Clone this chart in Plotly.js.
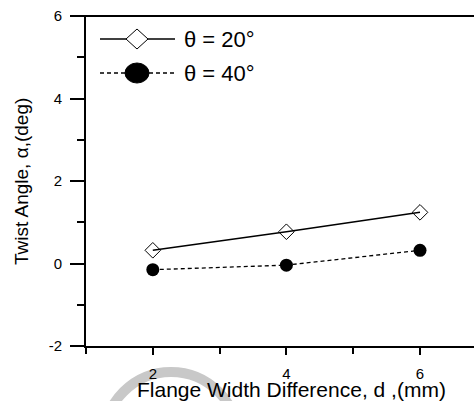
<!DOCTYPE html>
<html>
<head>
<meta charset="utf-8">
<script src="https://cdn.plot.ly/plotly-3.0.1.min.js"></script>
<style>html,body{margin:0;padding:0;background:#fff;overflow:hidden;}#chart{width:474px;height:401px;}</style>
</head>
<body>
<div id="chart"></div>
<script>
var widthDiff = [2, 4, 6];
var twist20 = [0.32, 0.77, 1.24];
var twist40 = [-0.15, -0.04, 0.32];
var seriesNames = ['\u03b8 = 20\u00b0', '\u03b8 = 40\u00b0'];
var xTickVals = [2, 4, 6];
var xTickText = ['2', '4', '6'];
var yTickVals = [-2, 0, 2, 4, 6];
var yTickText = ['-2', '0', '2', '4', '6'];
var xTitle = 'Flange Width Difference, d ,(mm)';
var yTitle = 'Twist Angle, \u03b1,(deg)';

var W = 474, H = 401;
var M = {l: 86, r: 0, t: 16, b: 55};
var pw = W - M.l - M.r, ph = H - M.t - M.b;
function px(x) { return (x - M.l) / pw; }
function py(y) { return (H - M.b - y) / ph; }

var FONT = 'Liberation Sans, Arial, Helvetica, sans-serif';

var traces = [
  {x: widthDiff, y: twist20, name: seriesNames[0], type: 'scatter', mode: 'lines+markers',
   line: {color: '#000', width: 1.5},
   marker: {symbol: 'diamond-open', size: 12, color: '#000', line: {width: 1, color: '#000'}},
   cliponaxis: false},
  {x: widthDiff, y: twist40, name: seriesNames[1], type: 'scatter', mode: 'lines+markers',
   line: {color: '#000', width: 1.3, dash: '4px,3px'},
   marker: {symbol: 'circle', size: 13, color: '#000'},
   cliponaxis: false}
];

var shapes = [
  // faint watermark arc at the bottom
  {type: 'circle', xref: 'paper', yref: 'paper', xsizemode: 'pixel', ysizemode: 'pixel',
   xanchor: px(171), yanchor: py(439), x0: -67, x1: 67, y0: -67, y1: 67,
   line: {color: '#c8c8c8', width: 10}, layer: 'below'},
  // top frame line
  {type: 'line', xref: 'paper', yref: 'paper', x0: px(72), x1: 1.01, y0: 1, y1: 1,
   line: {color: '#000', width: 2}},
  // legend samples
  {type: 'line', xref: 'paper', yref: 'paper', x0: px(100), x1: px(175), y0: py(39), y1: py(39),
   line: {color: '#000', width: 1.5}},
  {type: 'line', xref: 'paper', yref: 'paper', x0: px(100), x1: px(175), y0: py(73), y1: py(73),
   line: {color: '#000', width: 1.3, dash: '4px,3px'}},
  {type: 'path', xref: 'paper', yref: 'paper', xsizemode: 'pixel', ysizemode: 'pixel',
   xanchor: px(137), yanchor: py(39), path: 'M -11 0 L 0 10 L 11 0 L 0 -10 Z',
   fillcolor: '#fff', line: {color: '#000', width: 1}},
  {type: 'circle', xref: 'paper', yref: 'paper', xsizemode: 'pixel', ysizemode: 'pixel',
   xanchor: px(137), yanchor: py(73), x0: -12, x1: 12, y0: -10, y1: 10,
   fillcolor: '#000', line: {color: '#000', width: 1}}
];

var annotations = [
  {xref: 'paper', yref: 'paper', x: px(182), y: py(39), xanchor: 'left', yanchor: 'middle',
   text: seriesNames[0], showarrow: false, font: {family: FONT, size: 22, color: '#000'}},
  {xref: 'paper', yref: 'paper', x: px(182), y: py(73), xanchor: 'left', yanchor: 'middle',
   text: seriesNames[1], showarrow: false, font: {family: FONT, size: 22, color: '#000'}},
  // axis titles, placed as in the reference
  {xref: 'paper', yref: 'paper', x: px(291), y: py(389), xanchor: 'center', yanchor: 'middle',
   text: xTitle, showarrow: false, font: {family: FONT, size: 21, color: '#000'}},
  {xref: 'paper', yref: 'paper', x: px(21), y: py(182), xanchor: 'center', yanchor: 'middle',
   textangle: -90, text: yTitle, showarrow: false, font: {family: FONT, size: 19, color: '#000'}}
];

var layout = {
  width: W, height: H,
  margin: M,
  paper_bgcolor: '#fff', plot_bgcolor: '#fff',
  showlegend: false,
  font: {family: FONT, color: '#000'},
  xaxis: {
    range: [1, 1 + pw / 66.8], tickvals: xTickVals, ticktext: xTickText,
    showgrid: false, zeroline: false, showline: true, linecolor: '#000', linewidth: 2,
    mirror: false, ticks: 'outside', ticklen: 7, tickwidth: 2, tickcolor: '#000',
    minor: {tickvals: [1, 3, 5], ticks: 'outside', ticklen: 6, tickwidth: 2, tickcolor: '#000'},
    tickfont: {family: FONT, size: 15, color: '#000'},
    ticklabelstandoff: 6,
    automargin: false
  },
  yaxis: {
    range: [-2, 6], tickvals: yTickVals, ticktext: yTickText,
    showgrid: false, zeroline: false, showline: true, linecolor: '#000', linewidth: 2,
    mirror: false, ticks: 'outside', ticklen: 14, tickwidth: 2, tickcolor: '#000',
    minor: {tickvals: [-1, 1, 3, 5], ticks: 'outside', ticklen: 7, tickwidth: 2, tickcolor: '#000'},
    tickfont: {family: FONT, size: 15, color: '#000'},
    ticklabelstandoff: 5,
    automargin: false
  },
  shapes: shapes,
  annotations: annotations
};

Plotly.newPlot('chart', traces, layout, {staticPlot: true, displayModeBar: false});
</script>
</body>
</html>
